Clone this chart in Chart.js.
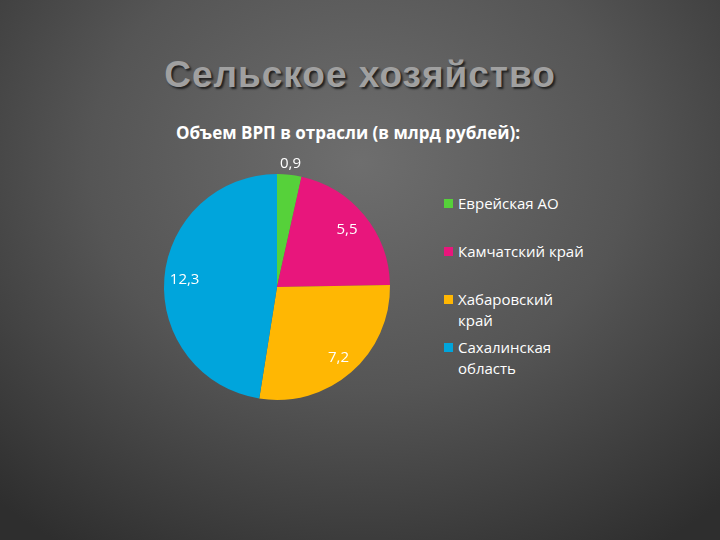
<!DOCTYPE html>
<html><head><meta charset="utf-8">
<script src="https://cdn.jsdelivr.net/npm/chart.js@4"></script>
<style>
html,body{margin:0;padding:0;width:720px;height:540px;overflow:hidden;}
body{background:radial-gradient(ellipse 75% 85% at 50% 30%,#6e6e6e 0%,#555 50%,#2e2e2e 100%);font-family:"Liberation Sans",Arial,sans-serif;position:relative;}
#title{position:absolute;left:0;width:720px;top:54px;text-align:center;font-size:37px;font-weight:bold;color:#a0a0a0;text-shadow:2px 2px 2px #222;letter-spacing:1px;}
#sub{position:absolute;left:176px;top:121px;font-family:"Open Sans",sans-serif;font-size:17px;font-weight:bold;color:#fff;}
#wrap{position:absolute;left:150px;top:150px;width:260px;height:270px;}
#legend{position:absolute;left:444px;top:193px;font-family:"Open Sans",sans-serif;font-size:15px;color:#fff;line-height:21px;}
.it{position:relative;padding-left:14px;margin-bottom:27px;}
.it span{position:absolute;left:0;top:6px;width:9px;height:9px;}
</style></head><body>
<div id="title">Сельское хозяйство</div>
<div id="sub">Объем ВРП в отрасли (в млрд рублей):</div>
<div id="wrap"><canvas id="c"></canvas></div>
<div id="legend"></div>
<script>
const categories=["Еврейская АО","Камчатский край","Хабаровский край","Сахалинская область"];
const legendLines=[["Еврейская АО"],["Камчатский край"],["Хабаровский","край"],["Сахалинская","область"]];
const values=[0.9,5.5,7.2,12.3];
const labels=["0,9","5,5","7,2","12,3"];
const colors=["#56d13a","#e8167c","#ffb703","#00a5dc"];
const lg=document.getElementById('legend');
legendLines.forEach((l,i)=>{const d=document.createElement('div');d.className='it';d.style.marginBottom=(l.length>1?'6px':'27px');d.innerHTML='<span style="background:'+colors[i]+'"></span>'+l.join('<br>');lg.appendChild(d);});
const rf=[1.1,0.8,0.83,0.82];
const lbl={id:'lbl',afterDatasetsDraw(ch){const ctx=ch.ctx;const m=ch.getDatasetMeta(0);ctx.save();ctx.font='15px "Open Sans",sans-serif';ctx.fillStyle='#fff';ctx.textAlign='center';ctx.textBaseline='middle';
m.data.forEach((a,i)=>{const p=a.getProps(['x','y','startAngle','endAngle','outerRadius'],true);const ang=(p.startAngle+p.endAngle)/2;const r=p.outerRadius*rf[i];ctx.fillText(labels[i],p.x+Math.cos(ang)*r,p.y+Math.sin(ang)*r);});ctx.restore();}};
new Chart(document.getElementById('c'),{type:'pie',data:{labels:categories,datasets:[{data:values,backgroundColor:colors,borderWidth:0}]},
options:{responsive:true,maintainAspectRatio:false,animation:false,layout:{padding:{left:0,right:6,top:24,bottom:20}},plugins:{legend:{display:false},tooltip:{enabled:false}}},plugins:[lbl]});
</script></body></html>
